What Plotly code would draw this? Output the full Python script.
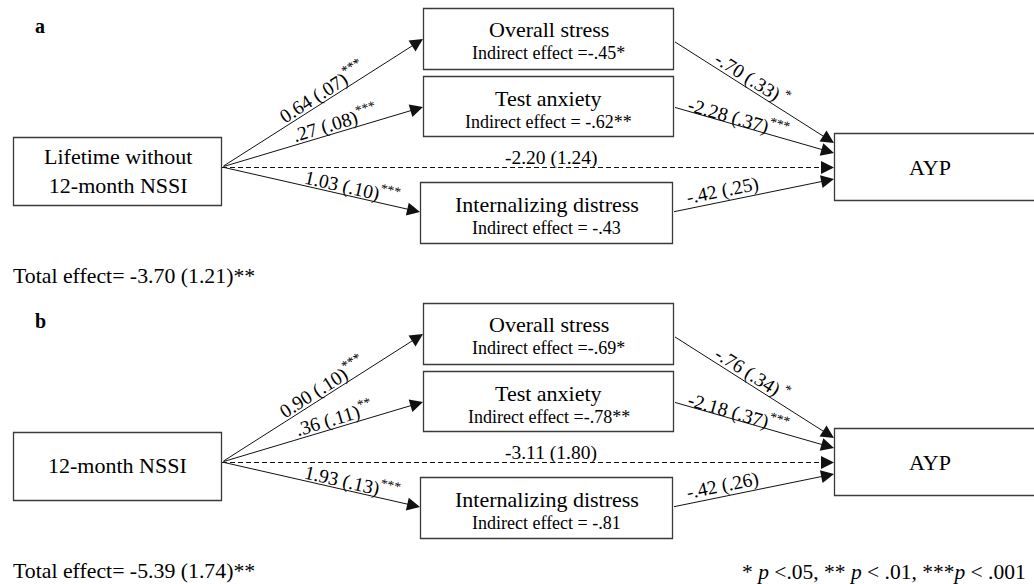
import math
import plotly.graph_objects as go

# ---------------- data ----------------
panel_letters = ["a", "b"]
predictors = ["Lifetime without<br>12-month NSSI", "12-month NSSI"]
mediators = ["Overall stress", "Test anxiety", "Internalizing distress"]
outcome = "AYP"
indirect_effects = [["=-.45*", "= -.62**", "= -.43"],
                    ["=-.69*", "=-.78**", "= -.81"]]
a_paths = [["0.64 (.07)", ".27 (.08)", "1.03 (.10)"],
           ["0.90 (.10)", ".36 (.11)", "1.93 (.13)"]]
a_sig = [["***", "***", "***"], ["***", "**", "***"]]
b_paths = [["-.70 (.33)", "-2.28 (.37)", "-.42 (.25)"],
           ["-.76 (.34)", "-2.18 (.37)", "-.42 (.26)"]]
b_sig = [[" *", "***", ""], [" *", "***", ""]]
direct_paths = ["-2.20 (1.24)", "-3.11 (1.80)"]
total_effects = ["-3.70 (1.21)**", "-5.39 (1.74)**"]
legend_text = "* <i>p</i> <.05, ** <i>p</i> < .01, ***<i>p</i> < .001"

# ---------------- layout geometry (pixels, panel-relative) ----------------
W, H = 1034, 584
panel_offsets = [0, 295]
pred_box = (13.5, 137.5, 221.5, 205.5)
med_boxes = [(423.5, 8.5, 673.5, 69.5), (423.5, 76.5, 673.5, 136.5), (420.5, 182.5, 672.5, 243.5)]
out_box = (834.5, 133.5, 1040, 200.5)
src_pt = (222, 167)
med_in = [(423, 39), (423, 107), (420, 212)]
med_out = [(673.5, 41), (673.5, 107), (672.5, 212)]
out_in = [(834, 143), (834, 153), (834, 179)]
dash_end = (834, 167.5)
a_label_pos = [(321, 91), (334, 122), (352, 186)]
b_label_pos = [(753, 78), (739, 117), (722, 191)]
direct_label_pos = (551, 158)
med_title_y = [29, 98, 204]
med_sub_y = [53, 122, 228]

SERIF = "Liberation Serif"
BOX_FONT = dict(family=SERIF, size=22, color="black")
SUB_FONT = dict(family=SERIF, size=18, color="black")
PATH_FONT = dict(family=SERIF, size=19.5, color="black")
LINE_C = "#111111"
BOX_C = "#3a3a3a"

fig = go.Figure()
shapes, anns = [], []


def box(b, dy):
    shapes.append(dict(type="rect", xref="x", yref="y", x0=b[0], y0=b[1] + dy,
                       x1=b[2], y1=b[3] + dy, line=dict(color=BOX_C, width=1.3),
                       fillcolor="white", layer="above"))


def text(x, y, s, font, angle=0, xanchor="center"):
    anns.append(dict(x=x, y=y, xref="x", yref="y", text=s, showarrow=False,
                     font=font, textangle=angle, xanchor=xanchor, yanchor="middle"))


def arrow(p0, p1):
    anns.append(dict(x=p1[0], y=p1[1], ax=p0[0], ay=p0[1], xref="x", yref="y",
                     axref="x", ayref="y", text="", showarrow=True, arrowhead=2,
                     arrowsize=2.6, arrowwidth=1, arrowcolor=LINE_C, standoff=0,
                     startstandoff=0))


def angle_of(p0, p1):
    return math.degrees(math.atan2(p1[1] - p0[1], p1[0] - p0[0]))


for i, dy in enumerate(panel_offsets):
    anns.append(dict(x=33, y=26 + dy, xref="x", yref="y", text="<b>" + panel_letters[i] + "</b>",
                     showarrow=False, font=dict(family=SERIF, size=20, color="black"),
                     xanchor="left", yanchor="middle"))
    box(pred_box, dy)
    for mb in med_boxes:
        box(mb, dy)
    box(out_box, dy)
    px = (pred_box[0] + pred_box[2]) / 2
    py = (pred_box[1] + pred_box[3]) / 2 + dy - 1
    text(px, py, predictors[i], BOX_FONT)
    for k, mb in enumerate(med_boxes):
        cx = (mb[0] + mb[2]) / 2
        text(cx, med_title_y[k] + dy, mediators[k], BOX_FONT)
        text(cx, med_sub_y[k] + dy, "Indirect effect " + indirect_effects[i][k], SUB_FONT)
    text(930, (out_box[1] + out_box[3]) / 2 + dy, outcome, BOX_FONT)

    s = (src_pt[0], src_pt[1] + dy)
    for k in range(3):
        e = (med_in[k][0], med_in[k][1] + dy)
        arrow(s, e)
        lx, ly = a_label_pos[k]
        text(lx, ly + dy, a_paths[i][k] + "<sup>" + a_sig[i][k] + "</sup>", PATH_FONT,
             angle=angle_of(s, e))
        m0 = (med_out[k][0], med_out[k][1] + dy)
        m1 = (out_in[k][0], out_in[k][1] + dy)
        arrow(m0, m1)
        lx, ly = b_label_pos[k]
        lab = b_paths[i][k] + ("<sup>" + b_sig[i][k] + "</sup>" if b_sig[i][k] else "")
        text(lx, ly + dy, lab, PATH_FONT, angle=angle_of(m0, m1))
    de = (dash_end[0], dash_end[1] + dy)
    shapes.append(dict(type="line", xref="x", yref="y", x0=s[0], y0=de[1], x1=de[0] - 8, y1=de[1],
                       line=dict(color=LINE_C, width=1, dash="5px,3px")))
    arrow((de[0] - 10, de[1]), de)
    text(direct_label_pos[0], direct_label_pos[1] + dy, direct_paths[i], PATH_FONT)
    text(11, 276 + dy, "Total effect= " + total_effects[i],
         dict(family=SERIF, size=21.8, color="black"), xanchor="left")

text(1028, 572, legend_text, dict(family=SERIF, size=21.5, color="black"), xanchor="right")

fig.update_layout(
    width=W, height=H, margin=dict(l=0, r=0, t=0, b=0),
    paper_bgcolor="white", plot_bgcolor="white",
    xaxis=dict(range=[0, W], visible=False, fixedrange=True),
    yaxis=dict(range=[H, 0], visible=False, fixedrange=True),
    shapes=shapes, annotations=anns, showlegend=False,
)
fig.write_html(
    "out.html",
    config={"displayModeBar": False, "responsive": False},
    post_script="document.documentElement.style.margin='0';document.body.style.margin='0';"
                "document.body.style.padding='0';document.body.style.overflow='hidden';",
)
